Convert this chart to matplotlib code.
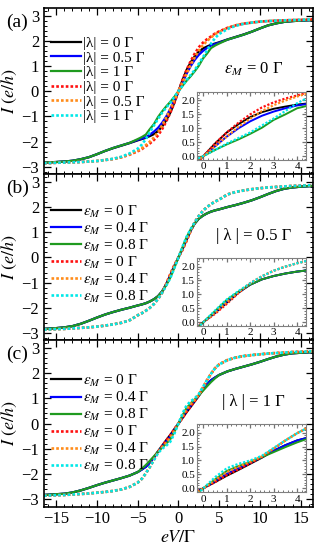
import numpy as np
import matplotlib
matplotlib.use("Agg")
import matplotlib.pyplot as plt
from matplotlib.ticker import MultipleLocator, FormatStrFormatter

plt.rcParams['font.family'] = ['Liberation Serif', 'DejaVu Serif']
plt.rcParams['mathtext.fontset'] = 'stix'

# ============================== Data ======================================
# positive bias side only, curves are odd in V (I(-V) = -I(V))
v_pos = [0, 0.5, 1, 1.5, 2, 2.5, 3, 3.5, 4, 4.5, 5, 6, 7, 8, 9, 10, 11, 12, 13, 14, 15, 16.5]

# (a) eps_M = 0, different |lambda|
a_black = [0, 0.45, 0.85, 1.15, 1.4, 1.58, 1.7, 1.78, 1.85, 1.9, 1.95, 2.06, 2.16, 2.26, 2.37, 2.5, 2.62, 2.7, 2.76, 2.79, 2.81, 2.83]
a_blue = [0, 0.35, 0.7, 1.0, 1.25, 1.45, 1.6, 1.72, 1.82, 1.88, 1.93, 2.05, 2.15, 2.25, 2.37, 2.5, 2.62, 2.7, 2.76, 2.79, 2.81, 2.83]
a_green = [0, 0.22, 0.42, 0.6, 0.8, 1.02, 1.3, 1.5, 1.72, 1.82, 1.9, 2.05, 2.15, 2.25, 2.37, 2.5, 2.62, 2.7, 2.76, 2.79, 2.81, 2.83]
a_red = [0, 0.45, 0.85, 1.2, 1.5, 1.75, 1.93, 2.07, 2.18, 2.3, 2.38, 2.52, 2.62, 2.69, 2.73, 2.77, 2.79, 2.81, 2.82, 2.83, 2.84, 2.86]
a_orange = [0, 0.35, 0.7, 1.05, 1.35, 1.62, 1.83, 2.0, 2.14, 2.27, 2.36, 2.51, 2.62, 2.69, 2.73, 2.77, 2.79, 2.81, 2.82, 2.83, 2.84, 2.86]
a_cyan = [0, 0.22, 0.45, 0.65, 0.85, 1.1, 1.35, 1.62, 1.9, 2.12, 2.28, 2.47, 2.6, 2.68, 2.73, 2.77, 2.79, 2.81, 2.82, 2.83, 2.84, 2.86]

# (b) |lambda| = 0.5, different eps_M
b_black = [0, 0.33, 0.7, 1.06, 1.35, 1.54, 1.66, 1.75, 1.82, 1.87, 1.91, 2.0, 2.08, 2.17, 2.27, 2.39, 2.52, 2.64, 2.73, 2.78, 2.81, 2.84]
b_blue = [0, 0.36, 0.74, 1.08, 1.35, 1.54, 1.66, 1.75, 1.82, 1.87, 1.91, 2.0, 2.08, 2.17, 2.27, 2.39, 2.52, 2.64, 2.73, 2.78, 2.81, 2.84]
b_green = [0, 0.4, 0.8, 1.1, 1.35, 1.54, 1.66, 1.75, 1.82, 1.87, 1.91, 2.0, 2.08, 2.17, 2.27, 2.39, 2.52, 2.64, 2.73, 2.78, 2.81, 2.84]
b_red = [0, 0.3, 0.66, 1.05, 1.4, 1.65, 1.85, 2.0, 2.12, 2.22, 2.3, 2.5, 2.6, 2.66, 2.71, 2.75, 2.78, 2.8, 2.82, 2.84, 2.85, 2.87]
b_orange = [0, 0.34, 0.72, 1.08, 1.4, 1.65, 1.85, 2.0, 2.12, 2.22, 2.3, 2.5, 2.6, 2.66, 2.71, 2.75, 2.78, 2.8, 2.82, 2.84, 2.85, 2.87]
b_cyan = [0, 0.42, 0.82, 1.12, 1.4, 1.65, 1.85, 2.0, 2.12, 2.22, 2.3, 2.5, 2.6, 2.66, 2.71, 2.75, 2.78, 2.8, 2.82, 2.84, 2.85, 2.87]

# (c) |lambda| = 1, different eps_M
c_black = [0, 0.22, 0.45, 0.66, 0.88, 1.1, 1.35, 1.55, 1.72, 1.83, 1.93, 2.07, 2.17, 2.26, 2.35, 2.45, 2.56, 2.66, 2.74, 2.79, 2.81, 2.84]
c_blue = [0, 0.26, 0.52, 0.72, 0.92, 1.12, 1.35, 1.55, 1.72, 1.83, 1.93, 2.07, 2.17, 2.26, 2.35, 2.45, 2.56, 2.66, 2.74, 2.79, 2.81, 2.84]
c_green = [0, 0.32, 0.62, 0.8, 0.95, 1.12, 1.3, 1.48, 1.65, 1.8, 1.93, 2.07, 2.17, 2.26, 2.35, 2.45, 2.56, 2.66, 2.74, 2.79, 2.81, 2.84]
c_red = [0, 0.22, 0.47, 0.68, 0.9, 1.13, 1.42, 1.72, 1.98, 2.2, 2.35, 2.52, 2.62, 2.68, 2.72, 2.75, 2.78, 2.8, 2.82, 2.84, 2.85, 2.87]
c_orange = [0, 0.3, 0.58, 0.78, 0.95, 1.15, 1.43, 1.72, 1.98, 2.2, 2.35, 2.52, 2.62, 2.68, 2.72, 2.75, 2.78, 2.8, 2.82, 2.84, 2.85, 2.87]
c_cyan = [0, 0.4, 0.72, 0.88, 1.0, 1.17, 1.45, 1.72, 1.98, 2.2, 2.35, 2.52, 2.62, 2.68, 2.72, 2.75, 2.78, 2.8, 2.82, 2.84, 2.85, 2.87]

lam_labels = ['|λ| = 0 Γ', '|λ| = 0.5 Γ', '|λ| = 1 Γ']
eps_labels = [r'$\varepsilon_M$ = 0 Γ', r'$\varepsilon_M$ = 0.4 Γ', r'$\varepsilon_M$ = 0.8 Γ']
panel_notes = [r'$\varepsilon_M$ = 0 Γ', '| λ | = 0.5 Γ', '| λ | = 1 Γ']
panel_tags = ['(a)', '(b)', '(c)']

colors = ['black', '#0000ff', '#1f9a1f', '#ff1010', '#ff8c1a', '#00e8e8']


def odd(vals):
    # build full curve from positive side
    v = np.array(v_pos)
    y = np.array(vals)
    return np.concatenate([-v[::-1], v[1:]]), np.concatenate([-y[::-1], y[1:]])


def style_ticks(ax, size, major, minor):
    ax.tick_params(which='both', direction='in', top=True, right=True)
    ax.tick_params(which='major', length=major, width=0.9, labelsize=size)
    ax.tick_params(which='minor', length=minor, width=0.7)


# ============================== Plot ======================================
fig = plt.figure(figsize=(3.23, 5.5), dpi=100)

panels = [
    [a_black, a_blue, a_green, a_red, a_orange, a_cyan],
    [b_black, b_blue, b_green, b_red, b_orange, b_cyan],
    [c_black, c_blue, c_green, c_red, c_orange, c_cyan],
]
bottoms = [0.683, 0.381, 0.079]
leg_y = [0.83, 0.825, 0.805]

for i, curves in enumerate(panels):
    ax = fig.add_axes([0.136, bottoms[i], 0.833, 0.302])
    labels = lam_labels * 2 if i == 0 else eps_labels * 2
    for j, vals in enumerate(curves):
        x, y = odd(vals)
        ls = '-' if j < 3 else (0, (1, 0.8))
        ax.plot(x, y, color=colors[j], lw=1.6 if j < 3 else 1.9, ls=ls, label=labels[j])
    ax.set_xlim(-16.5, 16.5)
    ax.set_ylim(-3.3, 3.3)
    ax.xaxis.set_major_locator(MultipleLocator(5))
    ax.xaxis.set_minor_locator(MultipleLocator(1))
    ax.yaxis.set_major_locator(MultipleLocator(1))
    ax.yaxis.set_minor_locator(MultipleLocator(0.2))
    style_ticks(ax, 12, 5, 2.5)
    for sp in ax.spines.values():
        sp.set_linewidth(1.2)
    if i < 2:
        ax.tick_params(labelbottom=False)
    else:
        ax.set_xlabel(r'$eV/\Gamma$', fontsize=13, labelpad=1)
    ax.set_ylabel(r'$I\ (e/h)$', fontsize=13, labelpad=2)

    ax.legend(loc='upper left', bbox_to_anchor=(0.025, leg_y[i]), frameon=False,
              fontsize=11, handlelength=2.0, handletextpad=0.1,
              labelspacing=0.06, borderpad=0, borderaxespad=0)

    ax.text(0.78, 0.63, panel_notes[i], transform=ax.transAxes, fontsize=12,
            ha='center', va='center')
    fig.text(0.02, bottoms[i] + 0.302 - 0.026, panel_tags[i], fontsize=14,
             ha='left', va='center')

    # inset: zoom on low bias
    ins = ax.inset_axes([0.569, 0.085, 0.405, 0.41])
    for j, vals in enumerate(curves):
        x, y = odd(vals)
        ls = '-' if j < 3 else (0, (1, 0.8))
        ins.plot(x, y, color=colors[j], lw=1.4 if j < 3 else 1.6, ls=ls)
    ins.set_xlim(-0.27, 4.38)
    ins.set_ylim(-0.15, 2.3)
    ins.xaxis.set_major_locator(MultipleLocator(1))
    ins.xaxis.set_minor_locator(MultipleLocator(0.2))
    ins.yaxis.set_major_locator(MultipleLocator(0.5))
    ins.yaxis.set_minor_locator(MultipleLocator(0.1))
    ins.yaxis.set_major_formatter(FormatStrFormatter('%.1f'))
    style_ticks(ins, 8, 3, 1.5)
    ins.tick_params(which='both', color='0.45', pad=1.5)
    for sp in ins.spines.values():
        sp.set_color('0.5')
        sp.set_linewidth(0.8)

fig.savefig('out.png', dpi=100)
